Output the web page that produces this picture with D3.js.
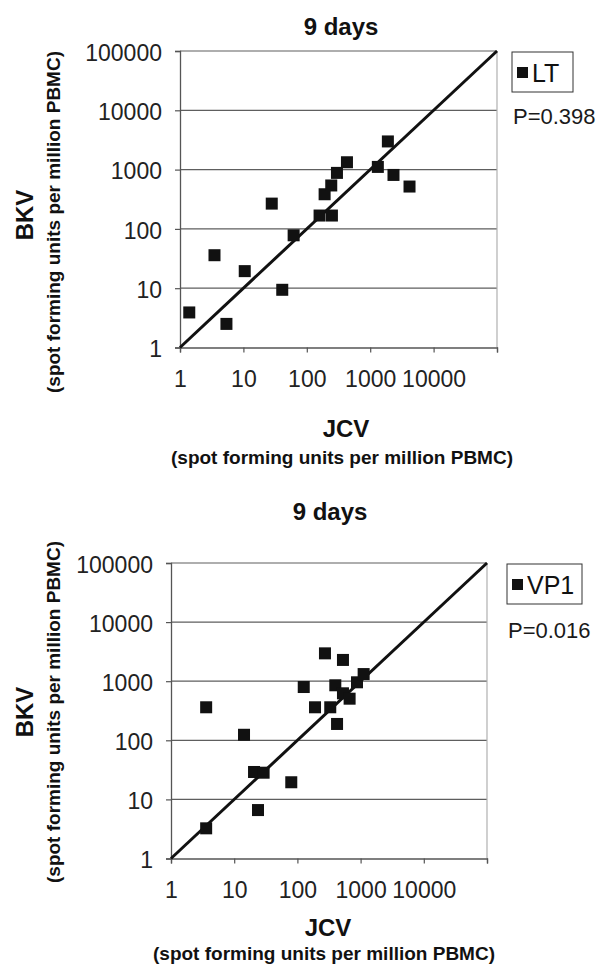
<!DOCTYPE html>
<html>
<head>
<meta charset="utf-8">
<script src="https://cdn.jsdelivr.net/npm/d3@7"></script>
<style>
  body { margin: 0; background: #fff; }
  svg text { font-family: "Liberation Sans", Arial, Helvetica, sans-serif; }
</style>
</head>
<body>
<div id="chart-area"></div>
<script>
// tick values shared by both axes
const tickValues = [1, 10, 100, 1000, 10000, 100000];
const xTickLabels = ["1", "10", "100", "1000", "10000", ""];
const yTickLabels = ["1", "10", "100", "1000", "10000", "100000"];

// LT panel (JCV vs BKV, spot forming units per million PBMC)
const ltJCV = [1.4, 3.5, 5.4, 10.5, 28, 41, 62, 159, 249, 191, 243, 299, 430, 1320, 1900, 2330, 4170];
const ltBKV = [3.9, 36, 2.5, 19.4, 267, 9.4, 78, 168, 168, 384, 540, 880, 1330, 1110, 2985, 813, 518];

// VP1 panel
const vp1JCV = [3.6, 3.6, 14.3, 20.6, 29.2, 23.8, 80, 126, 190, 273, 331, 398, 424, 526, 526, 670, 877, 1117];
const vp1BKV = [3.24, 362, 124, 29.1, 28.3, 6.6, 19.5, 797, 362, 2960, 362, 853, 189, 2290, 624, 506, 958, 1320];

const w = 597;
const h = 969;

const svg = d3.select("#chart-area")
    .append("svg")
    .attr("width", w)
    .attr("height", h);

const renderPanel = (cfg) => {
    const xScale = d3.scaleLog()
                        .domain([1, 100000])
                        .range([cfg.left, cfg.right]);

    const yScale = d3.scaleLog()
                        .domain([1, 100000])
                        .range([cfg.bottom, cfg.top]);

    const g = svg.append("g");

    // horizontal gridlines
    g.selectAll("line.grid")
        .data(tickValues.slice(1))
        .enter()
        .append("line")
        .attr("class", "grid")
        .attr("x1", cfg.left)
        .attr("x2", cfg.right)
        .attr("y1", d => yScale(d))
        .attr("y2", d => yScale(d))
        .attr("stroke", "#5e5e5e")
        .attr("stroke-width", 1.2);

    // right border
    g.append("line")
        .attr("x1", cfg.right)
        .attr("x2", cfg.right)
        .attr("y1", yScale(100000))
        .attr("y2", yScale(1))
        .attr("stroke", "#b0b0b0")
        .attr("stroke-width", 1.2);

    const xAxis = d3.axisBottom(xScale)
        .tickValues(tickValues)
        .tickFormat((d, i) => xTickLabels[i])
        .tickSizeOuter(0)
        .tickSize(5)
        .tickPadding(18);

    const yAxis = d3.axisLeft(yScale)
        .tickValues(tickValues)
        .tickFormat((d, i) => yTickLabels[i])
        .tickSizeOuter(0)
        .tickSize(5)
        .tickPadding(13);

    const xg = g.append("g")
        .attr("transform", "translate(0," + cfg.bottom + ")")
        .call(xAxis);

    const yg = g.append("g")
        .attr("transform", "translate(" + cfg.left + ",0)")
        .call(yAxis);

    [xg, yg].forEach(a => {
        a.select(".domain").attr("stroke", "#555").attr("stroke-width", 1.3);
        a.selectAll(".tick line").attr("stroke", "#555").attr("stroke-width", 1.2);
        a.selectAll(".tick text")
            .attr("fill", "#222")
            .style("font-size", "23px")
            .style("font-family", "'Liberation Sans', Arial, sans-serif");
    });
    yg.selectAll(".tick text").attr("dy", "0.4em");

    // identity line
    g.append("line")
        .attr("x1", xScale(1))
        .attr("y1", yScale(1))
        .attr("x2", xScale(100000))
        .attr("y2", yScale(100000))
        .attr("stroke", "#111")
        .attr("stroke-width", 3);

    // points
    const size = 12;
    g.selectAll("rect.dot")
        .data(cfg.xs)
        .enter()
        .append("rect")
        .attr("class", "dot")
        .attr("x", (d, i) => xScale(cfg.xs[i]) - size / 2)
        .attr("y", (d, i) => yScale(cfg.ys[i]) - size / 2)
        .attr("width", size)
        .attr("height", size)
        .attr("fill", "#111");

    // title
    g.append("text")
        .attr("x", cfg.titleX)
        .attr("y", cfg.titleY)
        .attr("text-anchor", "middle")
        .style("font-size", "24px")
        .style("font-weight", "bold")
        .attr("fill", "#111")
        .text("9 days");

    // x label
    g.append("text")
        .attr("x", cfg.xLabelX)
        .attr("y", cfg.xLabelY)
        .attr("text-anchor", "middle")
        .style("font-size", "24px")
        .style("font-weight", "bold")
        .attr("fill", "#111")
        .text("JCV");

    g.append("text")
        .attr("x", cfg.xLabelX - 4)
        .attr("y", cfg.xSubY)
        .attr("text-anchor", "middle")
        .style("font-size", "19px")
        .style("font-weight", "bold")
        .attr("fill", "#111")
        .text("(spot forming units per million PBMC)");

    // y label
    g.append("text")
        .attr("transform", "translate(33," + cfg.yLabelY + ") rotate(-90)")
        .attr("text-anchor", "middle")
        .style("font-size", "24px")
        .style("font-weight", "bold")
        .attr("fill", "#111")
        .text("BKV");

    g.append("text")
        .attr("transform", "translate(60," + cfg.ySubY + ") rotate(-90)")
        .attr("text-anchor", "middle")
        .style("font-size", "19px")
        .style("font-weight", "bold")
        .attr("fill", "#111")
        .text("(spot forming units per million PBMC)");

    // legend
    const legend = g.append("g")
        .attr("transform", "translate(" + cfg.legendX + "," + cfg.legendY + ")");

    legend.append("rect")
        .attr("width", cfg.legendW)
        .attr("height", 40)
        .attr("fill", "#fff")
        .attr("stroke", "#333")
        .attr("stroke-width", 1);

    legend.append("rect")
        .attr("x", 5)
        .attr("y", 15)
        .attr("width", 11)
        .attr("height", 11)
        .attr("fill", "#111");

    legend.append("text")
        .attr("x", 20)
        .attr("y", 30)
        .style("font-size", "25px")
        .attr("fill", "#111")
        .text(cfg.series);

    g.append("text")
        .attr("x", cfg.legendX + 1)
        .attr("y", cfg.pY)
        .style("font-size", "22px")
        .attr("fill", "#1a1a1a")
        .text(cfg.pText);
};

renderPanel({
    xs: ltJCV, ys: ltBKV, series: "LT", pText: "P=0.398",
    left: 180, right: 497, top: 51, bottom: 347.5,
    titleX: 341, titleY: 35,
    xLabelX: 346, xLabelY: 437, xSubY: 464,
    yLabelY: 215, ySubY: 222,
    legendX: 512, legendY: 52, legendW: 61, pY: 124
});

renderPanel({
    xs: vp1JCV, ys: vp1BKV, series: "VP1", pText: "P=0.016",
    left: 171, right: 487, top: 563, bottom: 858.5,
    titleX: 330, titleY: 520,
    xLabelX: 328, xLabelY: 936, xSubY: 960,
    yLabelY: 712, ySubY: 712,
    legendX: 507, legendY: 564, legendW: 75, pY: 638
});
</script>
</body>
</html>
